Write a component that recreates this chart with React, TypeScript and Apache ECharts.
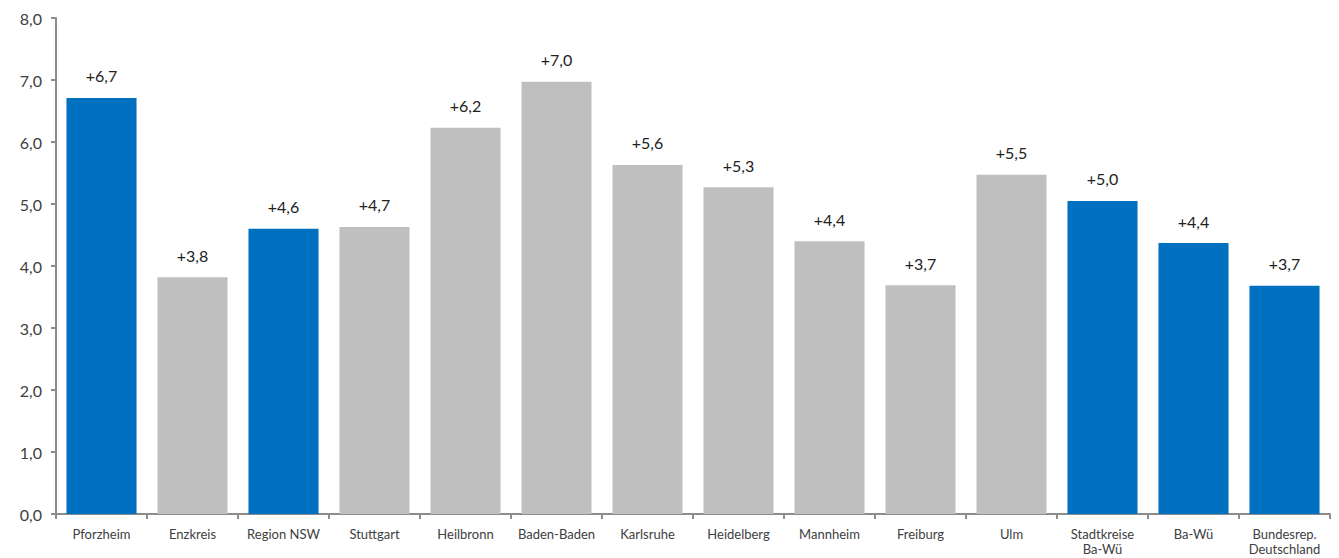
import React, { useEffect, useRef } from "react";
import * as echarts from "echarts";

const categories = [
  "Pforzheim", "Enzkreis", "Region NSW", "Stuttgart", "Heilbronn", "Baden-Baden",
  "Karlsruhe", "Heidelberg", "Mannheim", "Freiburg", "Ulm", "Stadtkreise\nBa-Wü",
  "Ba-Wü", "Bundesrep.\nDeutschland",
];
const values = [6.71, 3.82, 4.6, 4.63, 6.23, 6.97, 5.63, 5.27, 4.4, 3.69, 5.47, 5.05, 4.37, 3.68];
const valueLabels = ["+6,7", "+3,8", "+4,6", "+4,7", "+6,2", "+7,0", "+5,6", "+5,3", "+4,4", "+3,7", "+5,5", "+5,0", "+4,4", "+3,7"];
const highlighted = [true, false, true, false, false, false, false, false, false, false, false, true, true, true];
const yTicks = { min: 0, max: 8, interval: 1 };

const BLUE = "#0070C0";
const GRAY = "#BFBFBF";

export default function App() {
  const ref = useRef<HTMLDivElement>(null);
  useEffect(() => {
    if (!ref.current) return;
    const chart = echarts.init(ref.current, null, { renderer: "svg" });
    chart.setOption({
      animation: false,
      textStyle: { fontFamily: "Lato, 'Open Sans', sans-serif" },
      grid: { left: 56, right: 9, top: 18, bottom: 44 },
      xAxis: {
        type: "category",
        data: categories,
        axisLine: { lineStyle: { color: "#8c8c8c", width: 2 } },
        axisTick: { show: true, length: 5, lineStyle: { color: "#8c8c8c", width: 2 } },
        axisLabel: { color: "#404040", fontSize: 13, margin: 12, lineHeight: 15, interval: 0 },
      },
      yAxis: {
        type: "value",
        min: yTicks.min,
        max: yTicks.max,
        interval: yTicks.interval,
        splitLine: { show: false },
        axisLine: { show: true, lineStyle: { color: "#8c8c8c", width: 2 } },
        axisTick: { show: true, length: 5, lineStyle: { color: "#8c8c8c", width: 2 } },
        axisLabel: {
          color: "#404040",
          fontSize: 16,
          margin: 14,
          formatter: (v: number) => v.toFixed(1).replace(".", ","),
        },
      },
      series: [
        {
          type: "bar",
          barCategoryGap: "23%",
          data: values.map((v, i) => ({
            value: v,
            itemStyle: { color: highlighted[i] ? BLUE : GRAY },
          })),
          label: {
            show: true,
            position: "top",
            distance: 14,
            color: "#222",
            fontSize: 16,
            formatter: (p: any) => valueLabels[p.dataIndex],
          },
        },
      ],
    });
    return () => chart.dispose();
  }, []);
  return <div ref={ref} style={{ width: 1339, height: 558, position: "absolute", left: 0, top: 0 }} />;
}
